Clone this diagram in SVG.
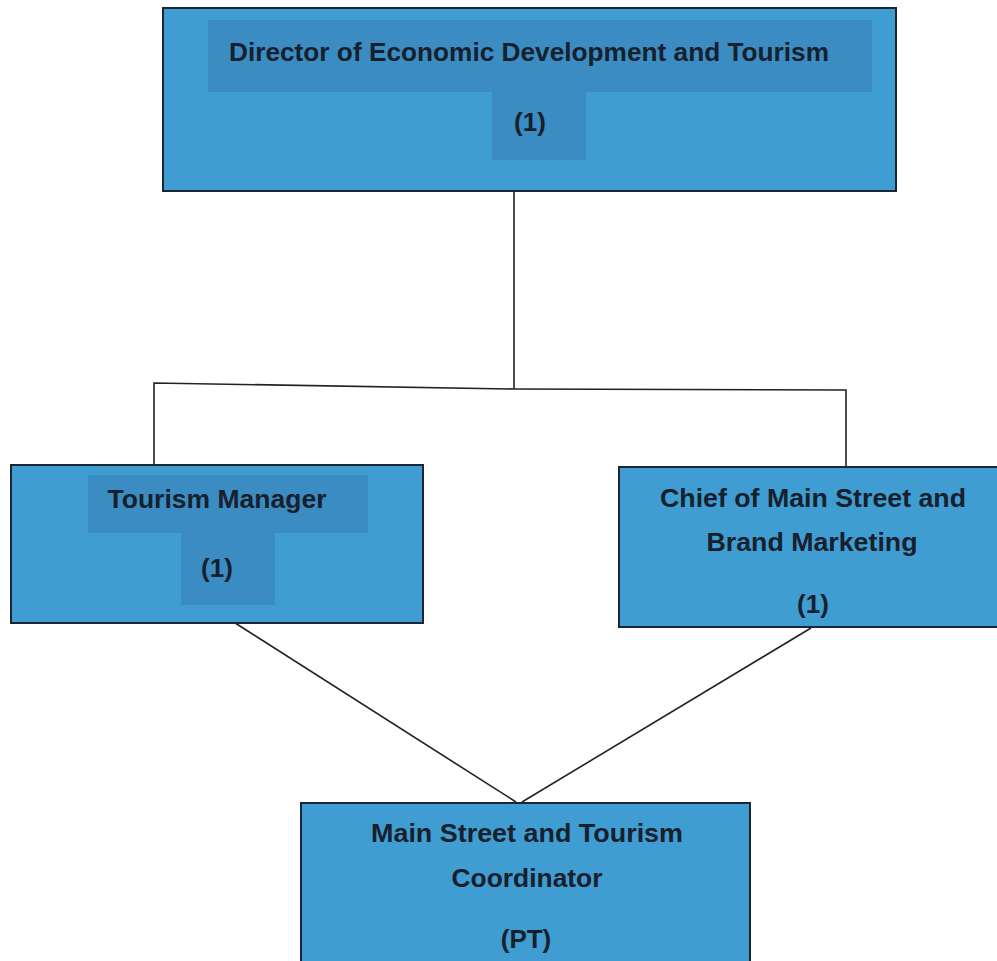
<svg xmlns="http://www.w3.org/2000/svg" width="997" height="961" viewBox="0 0 997 961">
<style>
.box{fill:#3f9dd2;stroke:#1b2633;stroke-width:2}
.hl{fill:#3a8cc2}
.t{font-family:"Liberation Sans",Arial,sans-serif;font-weight:bold;font-size:26px;fill:#17202c;text-anchor:middle}
.c{stroke:#222;stroke-width:1.6;fill:none}
</style>
<rect width="997" height="961" fill="#ffffff"/>
<g id="connectors">
<path class="c" d="M514 191 V389"/>
<path class="c" d="M154 465 V383 L514 389 L846 390 V467"/>
<path class="c" d="M232 621 L516 802"/>
<path class="c" d="M811 628 L522 802"/>
</g>
<g id="director">
<rect class="box" x="163" y="8" width="733" height="183"/>
<rect class="hl" x="208" y="20" width="664" height="72"/>
<rect class="hl" x="492" y="92" width="94" height="68"/>
<text class="t" x="529" y="61" textLength="600" lengthAdjust="spacingAndGlyphs">Director of Economic Development and Tourism</text>
<text class="t" x="530" y="131">(1)</text>
</g>
<g id="tourism-manager">
<rect class="box" x="11" y="465" width="412" height="158"/>
<rect class="hl" x="88" y="475" width="280" height="58"/>
<rect class="hl" x="181" y="533" width="94" height="72"/>
<text class="t" x="217" y="508" textLength="219" lengthAdjust="spacingAndGlyphs">Tourism Manager</text>
<text class="t" x="217" y="577">(1)</text>
</g>
<g id="chief-main-street">
<rect class="box" x="619" y="467" width="382" height="160"/>
<text class="t" x="813" y="507" textLength="306" lengthAdjust="spacingAndGlyphs">Chief of Main Street and</text>
<text class="t" x="812" y="551" textLength="211" lengthAdjust="spacingAndGlyphs">Brand Marketing</text>
<text class="t" x="813" y="613">(1)</text>
</g>
<g id="coordinator">
<rect class="box" x="301" y="803" width="449" height="165"/>
<text class="t" x="527" y="842" textLength="312" lengthAdjust="spacingAndGlyphs">Main Street and Tourism</text>
<text class="t" x="527" y="887" textLength="151" lengthAdjust="spacingAndGlyphs">Coordinator</text>
<text class="t" x="526" y="948">(PT)</text>
</g>
</svg>
